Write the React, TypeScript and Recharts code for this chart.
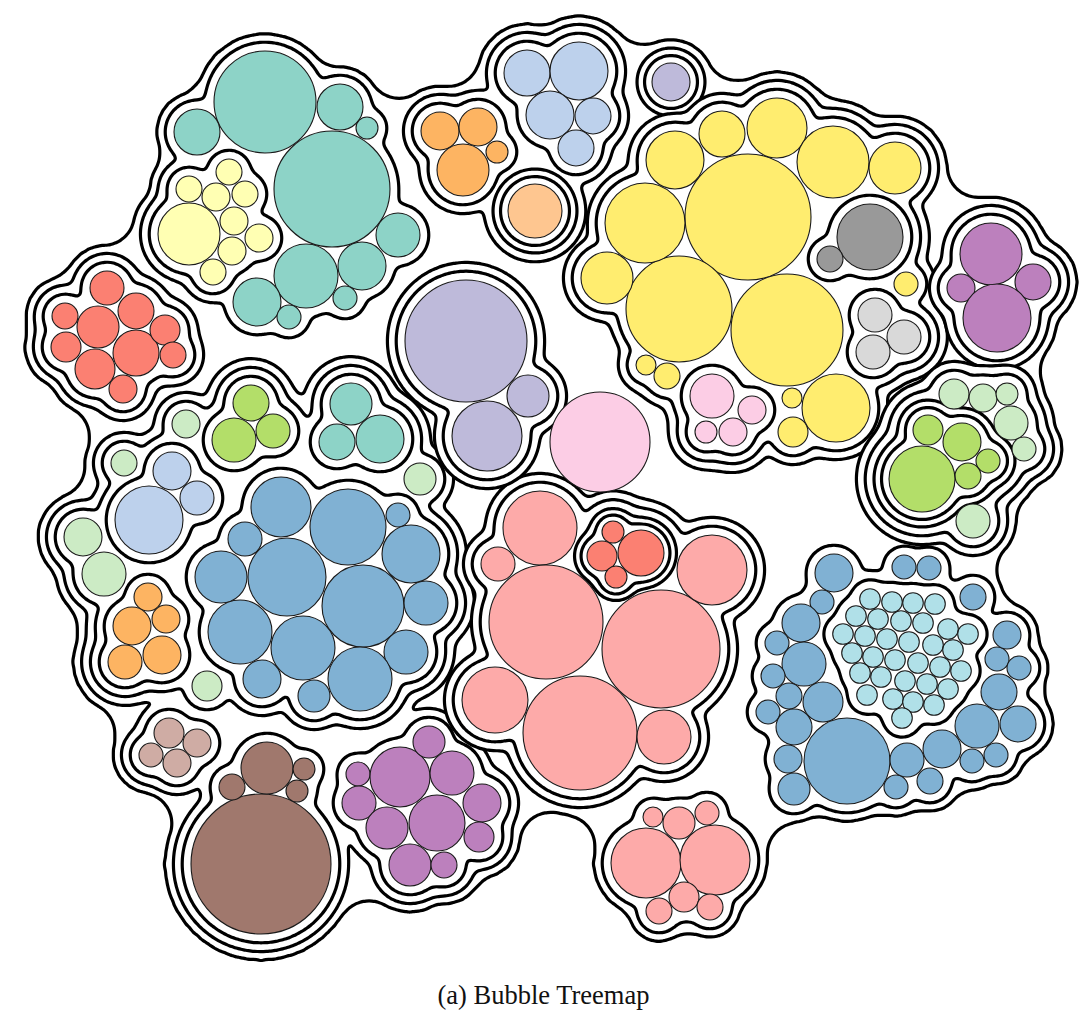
import React from 'react';
import { ScatterChart, Scatter, XAxis, YAxis, ZAxis } from 'recharts';

// every leaf bubble: [centre x, centre y, radius] in picture units
type Pt = [number, number, number];

const teal: Pt[] = [[265, 102, 51], [332, 189, 58], [197, 132, 23], [340, 107, 23], [367, 128, 11], [306, 276, 32], [362, 266, 24], [257, 302, 24], [345, 298, 12], [289, 317, 12], [398, 235, 22]];
const lightYellow: Pt[] = [[189, 234, 31], [229, 172, 13], [189, 189, 13], [216, 197, 14], [245, 194, 13], [234, 221, 14], [259, 238, 14], [232, 251, 14], [213, 272, 13]];
const red: Pt[] = [[107, 288, 17], [65, 316, 13], [136, 311, 18], [98, 327, 21], [66, 347, 15], [136, 353, 23], [95, 369, 20], [165, 330, 15], [173, 355, 13], [123, 389, 14]];

const orangeTop: Pt[] = [[440, 131, 19], [478, 127, 19], [463, 170, 26], [497, 152, 11]];
const peach: Pt[] = [[535, 211, 27]];
const lightBlueTop: Pt[] = [[527, 73, 23], [579, 71, 29], [550, 115, 24], [593, 116, 18], [576, 148, 18]];
const lavenderSmall: Pt[] = [[671, 82, 19]];

const yellow: Pt[] = [[748, 217, 63], [679, 309, 53], [787, 330, 56], [645, 223, 40], [675, 160, 29], [722, 134, 23], [777, 128, 30], [833, 162, 36], [895, 168, 26], [906, 284, 12], [607, 278, 26], [646, 365, 10], [667, 376, 13], [792, 398, 10], [793, 432, 15], [836, 408, 34]];
const grey: Pt[] = [[870, 237, 33], [830, 259, 13]];
const lightGrey: Pt[] = [[875, 315, 17], [904, 337, 17], [873, 352, 17]];
const pinkInYellow: Pt[] = [[712, 396, 22], [752, 410, 14], [733, 432, 14], [706, 432, 11]];

const purpleRight: Pt[] = [[991, 254, 31], [1033, 282, 18], [961, 288, 14], [997, 318, 34]];
const lightGreenRight: Pt[] = [[954, 394, 15], [983, 398, 14], [1007, 394, 11], [1011, 423, 17], [1024, 449, 12], [973, 521, 17]];
const greenRight: Pt[] = [[928, 430, 15], [962, 442, 19], [988, 461, 12], [968, 476, 13], [922, 479, 33]];

const darkBlue: Pt[] = [[834, 573, 19], [822, 602, 12], [904, 567, 12], [929, 568, 12], [973, 597, 13], [801, 623, 19], [777, 643, 12], [804, 664, 22], [773, 676, 12], [789, 696, 13], [823, 702, 20], [768, 712, 12], [794, 727, 18], [788, 759, 14], [794, 789, 16], [847, 761, 43], [896, 787, 12], [907, 760, 17], [930, 781, 13], [942, 749, 19], [972, 761, 12], [996, 755, 12], [977, 726, 22], [1018, 724, 18], [999, 692, 18], [997, 659, 12], [1019, 668, 12], [1007, 635, 14]];
const cyan: Pt[] = [
  [870, 599, 10.3], [892, 602, 10.3], [913, 603, 10.3], [935, 604, 10.3],
  [856, 616, 10.3], [878, 619, 10.3], [901, 621, 10.3], [923, 623, 10.3], [948, 629, 10.3], [968, 634, 10.3],
  [843, 634, 10.3], [865, 636, 10.3], [887, 639, 10.3], [909, 642, 10.3], [933, 645, 10.3], [953, 650, 10.3],
  [852, 653, 10.3], [873, 657, 10.3], [895, 660, 10.3], [918, 663, 10.3], [940, 667, 10.3], [961, 671, 10.3],
  [860, 673, 10.3], [881, 677, 10.3], [905, 681, 10.3], [927, 684, 10.3], [948, 689, 10.3],
  [867, 695, 10.3], [893, 699, 10.3], [913, 702, 10.3], [934, 705, 10.3],
  [902, 718, 10.3],
];

const lavenderCentre: Pt[] = [[466, 341, 61], [528, 396, 21], [487, 436, 35]];
const pinkCentre: Pt[] = [[600, 442, 50]];

const salmon: Pt[] = [[540, 528, 37], [498, 564, 17], [546, 622, 57], [661, 649, 59], [712, 570, 35], [495, 700, 33], [580, 733, 57], [664, 737, 27]];
const redSmall: Pt[] = [[613, 532, 11], [602, 556, 15], [641, 553, 23], [616, 577, 11]];
const pinkBottom: Pt[] = [[653, 817, 10], [679, 823, 16], [707, 813, 12], [646, 863, 35], [715, 860, 35], [684, 897, 15], [659, 911, 13], [710, 907, 13]];

const purpleBottom: Pt[] = [[358, 774, 12], [359, 803, 17], [400, 777, 30], [429, 742, 16], [452, 773, 22], [482, 803, 19], [387, 828, 21], [437, 823, 28], [479, 837, 15], [410, 865, 21], [444, 865, 13]];
const brown: Pt[] = [[261, 864, 70], [267, 768, 26], [232, 787, 13], [304, 769, 11], [297, 791, 11]];
const lightBrown: Pt[] = [[169, 733, 15], [197, 743, 14], [151, 755, 12], [177, 763, 14]];

const greenLeft: Pt[] = [[251, 403, 18], [234, 440, 22], [273, 431, 17]];
const tealSmall: Pt[] = [[351, 404, 21], [337, 442, 18], [380, 439, 24]];
const lightBlueLeft: Pt[] = [[149, 520, 34], [172, 471, 19], [197, 498, 17]];
const lightGreenLeft: Pt[] = [[186, 424, 14], [124, 463, 13], [83, 537, 19], [104, 574, 22], [207, 686, 15], [420, 479, 16]];
const orangeLeft: Pt[] = [[148, 597, 14], [132, 626, 19], [166, 619, 14], [125, 662, 17], [162, 655, 19]];
const blueLeft: Pt[] = [[281, 507, 30], [348, 527, 38], [398, 515, 12], [245, 539, 17], [287, 577, 39], [411, 554, 29], [221, 577, 26], [363, 606, 41], [426, 603, 22], [240, 632, 32], [303, 648, 32], [406, 652, 22], [262, 679, 19], [360, 679, 32], [314, 696, 16]];

const C = {
  teal: '#8dd3c7', lightYellow: '#ffffb3', red: '#fb8072', orange: '#fdb462', peach: '#fec690',
  lightBlue: '#bdd1ec', lavender: '#bebada', yellow: '#ffed6f', grey: '#999999', lightGrey: '#d9d9d9',
  pink: '#fccde5', purple: '#bc80bd', lightGreen: '#ccebc5', green: '#b3de69', blue: '#80b1d3',
  cyan: '#b0e0e8', salmon: '#fdaaa9', brown: '#a0786d', lightBrown: '#cfaca4',
};

const GAP = 8.8; // usual distance between nested contours
const SOFT = 3.5; // smooth-min blending of inner contours
const ROOT_CLOSE = 30; // closing radius for the outer contour
const STEP = 1.5; // sampling grid for contour tracing

type LeafSet = { pts: Pt[]; fill: string };
type Group = { kids: Array<Group | LeafSet>; gap: number };
const grp = (...kids: Array<Group | LeafSet>): Group => ({ kids, gap: GAP });
const tight = (gap: number, ...kids: Array<Group | LeafSet>): Group => ({ kids, gap });
const leaf = (pts: Pt[], fill: string): LeafSet => ({ pts, fill });

// hierarchy: every group gets one contour
const tree = grp(
  grp(leaf(teal, C.teal), grp(leaf(lightYellow, C.lightYellow))),
  grp(grp(leaf(red, C.red))),
  grp(
    grp(
      leaf(lightGreenLeft, C.lightGreen),
      grp(leaf(orangeLeft, C.orange)),
      grp(leaf(lightBlueLeft, C.lightBlue)),
      grp(leaf(greenLeft, C.green)),
      grp(leaf(tealSmall, C.teal)),
      grp(leaf(blueLeft, C.blue)),
    ),
    grp(leaf(brown, C.brown)),
    grp(leaf(lightBrown, C.lightBrown)),
    grp(leaf(purpleBottom, C.purple)),
  ),
  grp(grp(leaf(orangeTop, C.orange)), tight(7.5, tight(7.5, leaf(peach, C.peach))), grp(leaf(lightBlueTop, C.lightBlue))),
  tight(7.5, tight(7.5, leaf(lavenderSmall, C.lavender))),
  grp(grp(leaf(yellow, C.yellow), grp(leaf(grey, C.grey)), grp(leaf(lightGrey, C.lightGrey)), grp(leaf(pinkInYellow, C.pink)))),
  grp(grp(leaf(purpleRight, C.purple))),
  grp(grp(leaf(lightGreenRight, C.lightGreen), tight(7.5, tight(7.5, leaf(greenRight, C.green))))),
  grp(leaf(darkBlue, C.blue), grp(leaf(cyan, C.cyan))),
  grp(grp(leaf(salmon, C.salmon), tight(6.5, tight(6, leaf(redSmall, C.red))))),
  grp(leaf(pinkBottom, C.salmon)),
  grp(grp(leaf(lavenderCentre, C.lavender))),
  leaf(pinkCentre, C.pink),
);

type Disk = { x: number; y: number; R: number };
type Loop = [number, number][];
type Dot = { x: number; y: number; z: number; fill: string };
type Below = { x: number; y: number; r: number; pad: number };

const dots: Dot[] = [];
const nodes: { depth: number; disks: Disk[] }[] = [];

function collect(node: Group, depth: number): Below[] {
  const below: Below[] = [];
  node.kids.forEach((k) => {
    if ('pts' in k) {
      k.pts.forEach(([x, y, r]) => {
        below.push({ x, y, r, pad: 0 });
        dots.push({ x, y, z: r * r, fill: k.fill });
      });
    } else {
      below.push(...collect(k, depth + 1));
    }
  });
  const mine = below.map((p) => ({ ...p, pad: p.pad + node.gap }));
  nodes.push({ depth, disks: mine.map((p) => ({ x: p.x, y: p.y, R: p.r + p.pad })) });
  return mine;
}
collect(tree, 0);

// ---- marching squares ----
function traceLoops(v: Float64Array, nx: number, ny: number, x0: number, y0: number, h: number): Loop[] {
  const nb = new Map<number, number[]>();
  const link = (a: number, b: number) => {
    let la = nb.get(a);
    if (!la) nb.set(a, (la = []));
    la.push(b);
    let lb = nb.get(b);
    if (!lb) nb.set(b, (lb = []));
    lb.push(a);
  };
  for (let j = 0; j < ny - 1; j++) {
    for (let i = 0; i < nx - 1; i++) {
      const tl = v[j * nx + i], tr = v[j * nx + i + 1], br = v[(j + 1) * nx + i + 1], bl = v[(j + 1) * nx + i];
      const c = (tl < 0 ? 8 : 0) | (tr < 0 ? 4 : 0) | (br < 0 ? 2 : 0) | (bl < 0 ? 1 : 0);
      if (c === 0 || c === 15) continue;
      const T = (j * nx + i) * 2, L = (j * nx + i) * 2 + 1, B = ((j + 1) * nx + i) * 2, R = (j * nx + i + 1) * 2 + 1;
      const mid = (tl + tr + br + bl) / 4;
      switch (c) {
        case 1: case 14: link(L, B); break;
        case 2: case 13: link(B, R); break;
        case 3: case 12: link(L, R); break;
        case 4: case 11: link(T, R); break;
        case 6: case 9: link(T, B); break;
        case 7: case 8: link(L, T); break;
        case 5: if (mid < 0) { link(L, T); link(B, R); } else { link(T, R); link(L, B); } break;
        case 10: if (mid < 0) { link(T, R); link(L, B); } else { link(L, T); link(B, R); } break;
      }
    }
  }
  const pt = (e: number): [number, number] => {
    const base = e >> 1, vert = e & 1;
    const i = base % nx, j = (base - i) / nx;
    const a = v[base], b = vert ? v[base + nx] : v[base + 1];
    const t = a / (a - b);
    return vert ? [x0 + i * h, y0 + (j + t) * h] : [x0 + (i + t) * h, y0 + j * h];
  };
  const seen = new Set<number>();
  const loops: Loop[] = [];
  nb.forEach((_, start) => {
    if (seen.has(start)) return;
    const loop: Loop = [];
    let prev = -1, cur = start;
    for (;;) {
      seen.add(cur);
      loop.push(pt(cur));
      const n = nb.get(cur)!;
      const next = n[0] !== prev ? n[0] : n[1];
      if (next === undefined || next === start || seen.has(next)) break;
      prev = cur;
      cur = next;
    }
    loops.push(loop);
  });
  return loops;
}

const area = (l: Loop) => {
  let a = 0;
  for (let i = 0; i < l.length; i++) {
    const [x1, y1] = l[i], [x2, y2] = l[(i + 1) % l.length];
    a += x1 * y2 - x2 * y1;
  }
  return Math.abs(a / 2);
};
const inside = (p: [number, number], l: Loop) => {
  let c = false;
  for (let i = 0, j = l.length - 1; i < l.length; j = i++) {
    const [xi, yi] = l[i], [xj, yj] = l[j];
    if (yi > p[1] !== yj > p[1] && p[0] < ((xj - xi) * (p[1] - yi)) / (yj - yi) + xi) c = !c;
  }
  return c;
};
// keep outer boundaries only (holes dropped)
function outerLoops(loops: Loop[]): Loop[] {
  const big = loops.filter((l) => l.length > 6 && area(l) > 40);
  return big.filter((l) => !big.some((o) => o !== l && area(o) > area(l) && inside(l[0], o)));
}

function bbox(disks: Disk[], pad: number) {
  let x0 = Infinity, y0 = Infinity, x1 = -Infinity, y1 = -Infinity;
  disks.forEach((d) => {
    x0 = Math.min(x0, d.x - d.R); y0 = Math.min(y0, d.y - d.R);
    x1 = Math.max(x1, d.x + d.R); y1 = Math.max(y1, d.y + d.R);
  });
  x0 -= pad; y0 -= pad; x1 += pad; y1 += pad;
  return { x0, y0, nx: Math.ceil((x1 - x0) / STEP) + 1, ny: Math.ceil((y1 - y0) / STEP) + 1 };
}

// smooth union of the disks (soft minimum of signed distances)
function softContour(disks: Disk[]): Loop[] {
  const reach = 8 * SOFT;
  const { x0, y0, nx, ny } = bbox(disks, reach + 4);
  const S = new Float64Array(nx * ny);
  disks.forEach(({ x, y, R }) => {
    const i0 = Math.max(0, Math.floor((x - R - reach - x0) / STEP)), i1 = Math.min(nx - 1, Math.ceil((x + R + reach - x0) / STEP));
    const j0 = Math.max(0, Math.floor((y - R - reach - y0) / STEP)), j1 = Math.min(ny - 1, Math.ceil((y + R + reach - y0) / STEP));
    for (let j = j0; j <= j1; j++) {
      const dy = y0 + j * STEP - y;
      for (let i = i0; i <= i1; i++) {
        const dx = x0 + i * STEP - x;
        const d = Math.sqrt(dx * dx + dy * dy) - R;
        if (d < reach) S[j * nx + i] += Math.exp(-d / SOFT);
      }
    }
  });
  const v = new Float64Array(nx * ny);
  for (let k = 0; k < v.length; k++) v[k] = S[k] > 0 ? -SOFT * Math.log(S[k]) : reach;
  return outerLoops(traceLoops(v, nx, ny, x0, y0, STEP));
}

function edt1d(f: Float64Array, n: number, d: Float64Array, vv: Int32Array, z: Float64Array) {
  let k = 0;
  vv[0] = 0; z[0] = -1e30; z[1] = 1e30;
  for (let q = 1; q < n; q++) {
    let s = (f[q] + q * q - (f[vv[k]] + vv[k] * vv[k])) / (2 * q - 2 * vv[k]);
    while (s <= z[k]) {
      k--;
      s = (f[q] + q * q - (f[vv[k]] + vv[k] * vv[k])) / (2 * q - 2 * vv[k]);
    }
    k++;
    vv[k] = q; z[k] = s; z[k + 1] = 1e30;
  }
  k = 0;
  for (let q = 0; q < n; q++) {
    while (z[k + 1] < q) k++;
    const dq = q - vv[k];
    d[q] = dq * dq + f[vv[k]];
  }
}
function edt(f: Float64Array, nx: number, ny: number) {
  const m = Math.max(nx, ny);
  const col = new Float64Array(m), d = new Float64Array(m), vv = new Int32Array(m), z = new Float64Array(m + 1);
  for (let i = 0; i < nx; i++) {
    for (let j = 0; j < ny; j++) col[j] = f[j * nx + i];
    edt1d(col, ny, d, vv, z);
    for (let j = 0; j < ny; j++) f[j * nx + i] = d[j];
  }
  for (let j = 0; j < ny; j++) {
    for (let i = 0; i < nx; i++) col[i] = f[j * nx + i];
    edt1d(col, nx, d, vv, z);
    for (let i = 0; i < nx; i++) f[j * nx + i] = d[i];
  }
}

// outer contour: morphological closing of the disk union, holes filled
function closedContour(disks: Disk[], s: number): Loop[] {
  const { x0, y0, nx, ny } = bbox(disks, s + 8);
  const F = new Float64Array(nx * ny).fill(1e9);
  disks.forEach(({ x, y, R }) => {
    const e = R + s + 3;
    const i0 = Math.max(0, Math.floor((x - e - x0) / STEP)), i1 = Math.min(nx - 1, Math.ceil((x + e - x0) / STEP));
    const j0 = Math.max(0, Math.floor((y - e - y0) / STEP)), j1 = Math.min(ny - 1, Math.ceil((y + e - y0) / STEP));
    for (let j = j0; j <= j1; j++) {
      const dy = y0 + j * STEP - y;
      for (let i = i0; i <= i1; i++) {
        const dx = x0 + i * STEP - x;
        const d = Math.sqrt(dx * dx + dy * dy) - R;
        if (d < F[j * nx + i]) F[j * nx + i] = d;
      }
    }
  });
  const out = new Uint8Array(nx * ny);
  const stack: number[] = [];
  const push = (k: number) => {
    if (!out[k] && F[k] >= s) { out[k] = 1; stack.push(k); }
  };
  for (let i = 0; i < nx; i++) { push(i); push((ny - 1) * nx + i); }
  for (let j = 0; j < ny; j++) { push(j * nx); push(j * nx + nx - 1); }
  while (stack.length) {
    const k = stack.pop()!;
    const i = k % nx;
    if (i > 0) push(k - 1);
    if (i < nx - 1) push(k + 1);
    if (k >= nx) push(k - nx);
    if (k < nx * (ny - 1)) push(k + nx);
  }
  const f = new Float64Array(nx * ny);
  for (let k = 0; k < f.length; k++) f[k] = out[k] ? 0 : 1e20;
  edt(f, nx, ny);
  const v = new Float64Array(nx * ny);
  for (let k = 0; k < v.length; k++) v[k] = s - (Math.sqrt(f[k]) * STEP - STEP / 2);
  return outerLoops(traceLoops(v, nx, ny, x0, y0, STEP));
}

// contour outlines, outermost first
const outlines: { x: number; y: number }[][] = [];
nodes
  .slice()
  .sort((a, b) => a.depth - b.depth)
  .forEach((n) => {
    const loops = n.depth === 0 ? closedContour(n.disks, ROOT_CLOSE) : softContour(n.disks);
    loops.forEach((l) => outlines.push(l.filter((_, i) => i % 2 === 0).map(([x, y]) => ({ x, y }))));
  });

const radiusOf = (p: any) => (p.width ? p.width / 2 : Math.sqrt((p.size || 0) / Math.PI));
const dotShape = (p: any) => (
  <circle cx={p.cx} cy={p.cy} r={radiusOf(p)} fill={(p.payload ?? p).fill} stroke="#1a1a1a" strokeWidth={1.1} />
);
const noDot = () => null;

const W = 1087;
const H = 975;

const App: React.FC = () => (
  <div style={{ position: 'absolute', left: 0, top: 0, width: W, height: 1031, background: '#fff' }}>
    <ScatterChart width={W} height={H} margin={{ top: 0, right: 0, bottom: 0, left: 0 }}>
      <XAxis type="number" dataKey="x" domain={[0, W]} allowDataOverflow hide />
      <YAxis type="number" dataKey="y" domain={[0, H]} allowDataOverflow reversed hide />
      <ZAxis type="number" dataKey="z" domain={[0, 10000]} range={[0, 10000 * Math.PI]} />
      {outlines.map((pts, i) => (
        <Scatter
          key={`c${i}`}
          data={pts}
          shape={noDot}
          line={{ stroke: '#000', strokeWidth: 3.2, fill: '#fff' }}
          lineType="joint"
          lineJointType="basisClosed"
          isAnimationActive={false}
        />
      ))}
      <Scatter data={dots} shape={dotShape} isAnimationActive={false} />
    </ScatterChart>
    <div
      style={{
        position: 'absolute', top: 980, left: 0, width: W, textAlign: 'center',
        fontFamily: '"Liberation Serif", "DejaVu Serif", serif', fontSize: 26.5, color: '#111',
      }}
    >
      (a) Bubble Treemap
    </div>
  </div>
);

export default App;
